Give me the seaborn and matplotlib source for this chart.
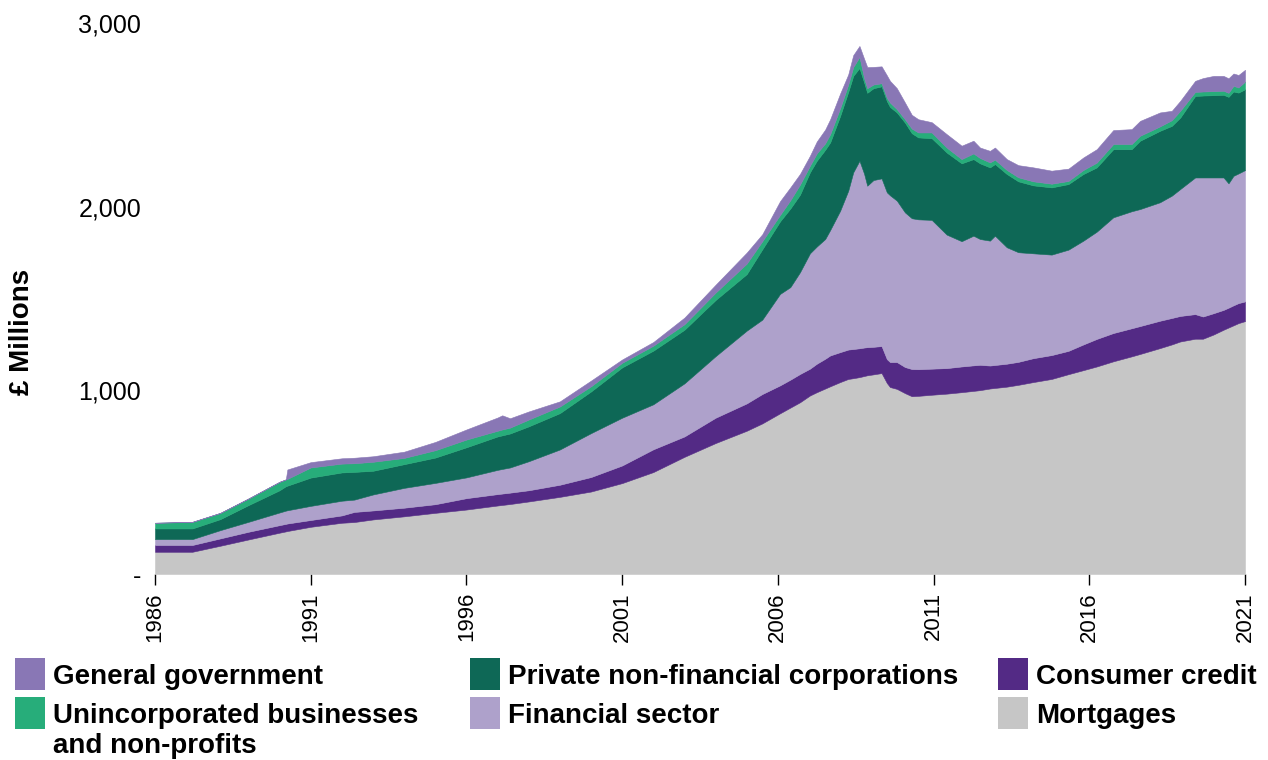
import matplotlib
matplotlib.use("Agg")
import matplotlib.pyplot as plt
import seaborn as sns
from matplotlib.patches import Rectangle

# ---------------- data (values in £ millions) ----------------
years = [1986.0, 1987.2, 1988.1, 1989.0, 1990.0, 1990.2, 1990.25, 1991.0, 1992.0, 1992.4,
         1993.0, 1994.0, 1995.0, 1996.0, 1997.0, 1997.15, 1997.4, 1998.0, 1999.0, 2000.0,
         2001.0, 2002.0, 2003.0, 2004.0, 2005.0, 2005.5,
         2006.07, 2006.4, 2006.71, 2007.03, 2007.25, 2007.52, 2007.68, 2008.0, 2008.26, 2008.42,
         2008.62, 2008.77, 2008.87, 2009.07, 2009.33, 2009.5, 2009.6, 2009.82, 2010.08, 2010.3,
         2010.51, 2010.94, 2011.42, 2011.9, 2012.28, 2012.49, 2012.81, 2012.97, 2013.35, 2013.72,
         2014.2, 2014.79, 2015.33, 2015.81, 2016.24, 2016.77, 2017.36, 2017.63, 2018.27, 2018.65,
         2018.92, 2019.4, 2019.65, 2019.99, 2020.31, 2020.47, 2020.63, 2020.79, 2021.0]

mortgages = [121, 121, 154, 188, 225, 232, 234, 257, 279, 283,
             297, 314, 333, 351, 373, 376, 381, 395, 420, 449,
             495, 555, 638, 713, 780, 820,
             875, 906, 935, 972, 990, 1010, 1022, 1045, 1062, 1066,
             1072, 1078, 1082, 1087, 1094, 1040, 1018, 1008, 985, 968,
             970, 976, 982, 990, 997, 1001, 1010, 1013, 1020, 1030,
             1045, 1062, 1088, 1110, 1130, 1158, 1185, 1198, 1230, 1250,
             1266, 1281, 1281, 1304, 1330, 1342, 1354, 1366, 1377]

consumer_credit = [37, 37, 40, 42, 41, 41, 41, 37, 40, 55,
                   49, 47, 47, 62, 62, 62, 62, 61, 66, 79,
                   96, 124, 111, 138, 149, 160,
                   152, 152, 154, 146, 155, 162, 168, 163, 160, 159,
                   157, 155, 153, 150, 147, 130, 136, 146, 142, 148,
                   145, 142, 139, 140, 139, 138, 125, 125, 125, 125,
                   130, 130, 127, 140, 150, 154, 153, 152, 149, 144,
                   139, 134, 121, 116, 108, 108, 109, 109, 107]

financial_sector = [32, 32, 45, 54, 69, 72, 72, 77, 80, 67,
                    87, 108, 116, 113, 132, 134, 137, 158, 192, 239,
                    260, 245, 289, 335, 396, 405,
                    498, 504, 554, 628, 638, 652, 683, 770, 865, 962,
                    1021, 946, 879, 908, 913, 908, 908, 879, 842, 821,
                    816, 810, 727, 682, 706, 685, 680, 704, 634, 597,
                    571, 547, 551, 565, 584, 630, 637, 637, 645, 666,
                    691, 744, 757, 739, 721, 677, 705, 706, 715]

private_nfc = [58, 58, 60, 91, 121, 133, 134, 154, 154, 151,
               129, 129, 138, 164, 182, 183, 185, 190, 198, 227,
               274, 292, 292, 306, 308, 383,
               395, 428, 422, 441, 467, 486, 477, 516, 538, 525,
               505, 497, 506, 500, 501, 497, 481, 480, 489, 463,
               446, 445, 447, 424, 417, 412, 399, 390, 399, 386,
               370, 366, 357, 363, 350, 371, 338, 372, 389, 380,
               389, 444, 446, 448, 450, 471, 459, 440, 440]

unincorporated = [31, 36, 34, 36, 46, 37, 37, 55, 48, 47,
                  49, 34, 40, 42, 31, 32, 32, 37, 36, 28,
                  25, 27, 30, 40, 57, 44,
                  35, 45, 55, 36, 40, 35, 45, 42, 40, 48,
                  60, 24, 25, 20, 17, 17, 24, 18, 18, 25,
                  27, 31, 27, 23, 31, 29, 27, 24, 22, 22,
                  22, 20, 17, 22, 26, 28, 28, 27, 24, 31,
                  37, 22, 22, 22, 22, 22, 31, 28, 42]

general_government = [0, 0, 0, 0, 0, 0, 51, 29, 29, 30,
                      30, 34, 45, 55, 72, 77, 51, 44, 28, 31,
                      18, 20, 36, 43, 60, 38,
                      75, 70, 58, 54, 65, 75, 81, 80, 55, 65,
                      60, 105, 115, 96, 92, 123, 118, 114, 91, 75,
                      72, 56, 73, 73, 69, 57, 63, 66, 59, 66,
                      76, 71, 67, 68, 73, 76, 81, 81, 76, 51,
                      54, 60, 73, 83, 81, 79, 67, 68, 64]

series_names = ["Mortgages", "Consumer credit", "Financial sector",
                "Private non-financial corporations",
                "Unincorporated businesses\nand non-profits", "General government"]
series_colors = ["#c6c6c6", "#532a85", "#aea1cb", "#0e6856", "#27ad7a", "#8977b5"]

x_tick_years = [1986, 1991, 1996, 2001, 2006, 2011, 2016, 2021]
y_ticks = [0, 1000, 2000, 3000]
y_tick_labels = ["-", "1,000", "2,000", "3,000"]

# legend layout: (name index, column, row)
legend_order = [(5, 0, 0), (4, 0, 1), (3, 1, 0), (2, 1, 1), (1, 2, 0), (0, 2, 1)]

# ---------------- style ----------------
sns.set_theme(style="white")
plt.rcParams["font.family"] = ["Liberation Sans", "DejaVu Sans"]
plt.rcParams["text.color"] = "black"
plt.rcParams["xtick.color"] = "black"
plt.rcParams["ytick.color"] = "black"

W, H = 1268, 760
fig = plt.figure(figsize=(W / 100, H / 100), dpi=100)
fig.patch.set_facecolor("white")

left, right, top, bottom = 155, 1245, 23, 574
ax = fig.add_axes([left / W, 1 - bottom / H, (right - left) / W, (bottom - top) / H])

palette = sns.color_palette(series_colors)
polys = ax.stackplot(years, mortgages, consumer_credit, financial_sector, private_nfc,
                     unincorporated, general_government, colors=palette, linewidth=0)
for p, c in zip(polys, palette):
    p.set_edgecolor(c)
    p.set_linewidth(0.4)

ax.set_xlim(1986, 2021)
ax.set_ylim(0, 3000)
ax.set_xticks(x_tick_years)
ax.set_xticklabels([str(y) for y in x_tick_years], rotation=90, va="top")
ax.set_yticks(y_ticks)
ax.set_yticklabels(y_tick_labels)
for s in ax.spines.values():
    s.set_visible(False)
ax.tick_params(axis="x", bottom=True, length=8, width=1, color="black", pad=5,
               labelsize=16, labelcolor="black")
ax.tick_params(axis="y", left=False, length=0, pad=10, labelsize=18, labelcolor="black")
ax.set_xlabel("")
ax.set_ylabel("")
ax.grid(False)

fig.text(22 / W, 1 - 332 / H, "£ Millions", rotation=90, fontsize=20, fontweight="bold",
         ha="center", va="center")

# ---------------- legend ----------------
col_x = [15, 470, 998]
row_y = [674, 713]
patch_w, patch_h = 30, 32
for idx, col, row in legend_order:
    x0 = col_x[col]
    yc = row_y[row]
    fig.patches.append(Rectangle((x0 / W, 1 - (yc + patch_h / 2) / H), patch_w / W, patch_h / H,
                                 transform=fig.transFigure, facecolor=series_colors[idx],
                                 edgecolor="none"))
    label = series_names[idx]
    if "\n" in label:
        fig.text((x0 + 38) / W, 1 - (yc - 10) / H, label, fontsize=20, fontweight="bold",
                 ha="left", va="top", linespacing=1.18)
    else:
        fig.text((x0 + 38) / W, 1 - (yc + 3) / H, label, fontsize=20, fontweight="bold",
                 ha="left", va="center")

fig.savefig("out.png", dpi=100, facecolor="white")
